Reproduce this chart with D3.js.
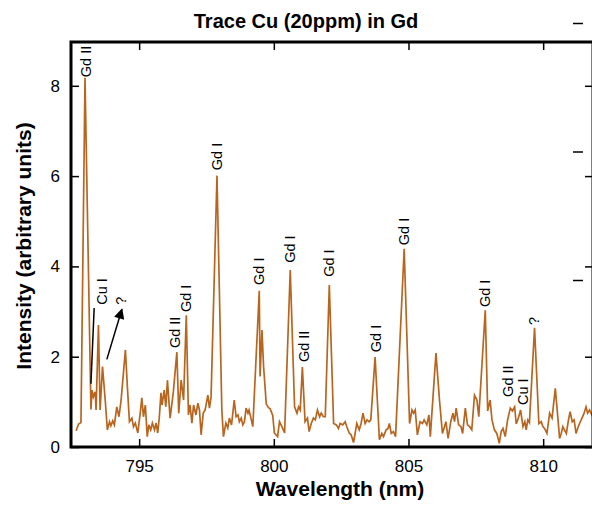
<!DOCTYPE html>
<html>
<head>
<meta charset="utf-8">
<script src="https://cdn.jsdelivr.net/npm/d3@7"></script>
<style>
  body { margin: 0; background: #fff; }
  svg { font-family: "Liberation Sans", Arial, sans-serif; }
</style>
</head>
<body>
<svg></svg>
<script>
// spectrum
const wavelength = [792.66,792.75,792.84,792.99,793.21,793.25,793.30,793.37,793.40,793.49,
  793.55,793.64,793.74,793.82,793.90,793.95,794.02,794.08,794.17,794.25,
  794.33,794.49,794.57,794.64,794.73,794.79,794.86,794.95,795.04,795.10,
  795.16,795.23,795.30,795.36,795.43,795.49,795.57,795.63,795.69,795.75,
  795.81,795.85,795.93,795.99,796.05,796.15,796.27,796.40,796.47,796.56,
  796.65,796.75,796.83,796.89,796.96,797.02,797.11,797.18,797.24,797.30,
  797.38,797.45,797.55,797.61,797.67,797.89,798.07,798.13,798.22,798.29,
  798.35,798.43,798.53,798.60,798.67,798.72,798.79,798.85,798.91,798.97,
  799.04,799.08,799.15,799.22,799.46,799.49,799.56,799.62,799.72,799.80,
  799.86,799.96,800.02,800.14,800.21,800.30,800.40,800.61,800.77,800.86,
  800.92,800.98,801.06,801.16,801.25,801.31,801.39,801.47,801.54,801.62,
  801.70,801.76,801.84,801.91,802.06,802.22,802.32,802.40,802.46,802.56,
  802.65,802.71,802.80,802.87,802.96,803.08,803.17,803.24,803.31,803.39,
  803.46,803.54,803.60,803.76,803.92,804.01,804.07,804.17,804.24,804.29,
  804.36,804.44,804.52,804.84,805.04,805.13,805.19,805.25,805.33,805.43,
  805.52,805.58,805.68,805.76,805.81,806.02,806.15,806.26,806.39,806.47,
  806.57,806.65,806.71,806.77,806.86,806.95,807.01,807.11,807.19,807.27,
  807.35,807.45,807.54,807.61,807.85,807.94,808.03,808.10,808.19,808.28,
  808.37,808.44,808.51,808.59,808.68,808.78,808.86,808.94,809.00,809.08,
  809.16,809.25,809.32,809.37,809.43,809.49,809.68,809.84,809.93,809.99,
  810.05,810.14,810.24,810.33,810.45,810.53,810.61,810.67,810.73,810.79,
  810.86,810.94,811.00,811.08,811.15,811.22,811.28,811.35,811.44,811.52,
  811.59,811.65,811.72,811.81,811.90,812.00];

const intensity = [0.36,0.51,0.54,8.18,0.83,1.26,1.11,1.22,0.82,2.70,
  0.82,1.78,1.04,0.38,0.56,0.47,0.58,0.49,0.89,0.67,
  1.04,2.15,1.26,0.56,0.64,0.45,0.53,0.31,0.75,1.09,
  0.67,0.93,0.23,0.49,0.38,0.53,0.38,0.53,0.31,0.67,
  1.20,0.93,1.26,0.89,1.48,0.64,1.22,2.10,0.75,1.48,
  1.04,2.92,0.71,0.93,0.53,0.93,0.71,0.97,0.82,0.27,
  0.75,0.82,1.15,0.86,1.11,6.01,0.82,0.23,0.53,0.42,
  0.64,0.49,1.04,0.67,0.71,0.56,0.64,0.49,0.56,0.86,
  0.75,0.82,0.64,0.45,3.46,1.56,2.59,1.78,0.95,0.87,
  0.85,0.70,0.31,0.23,0.56,0.45,0.31,3.92,0.89,0.75,
  0.89,0.82,1.77,0.56,0.64,0.34,0.52,0.64,0.60,0.82,
  0.67,0.75,0.67,0.67,3.59,0.52,0.49,0.41,0.52,0.49,
  0.56,0.45,0.31,0.27,0.10,0.52,0.38,0.52,0.75,0.52,
  0.60,0.56,0.60,1.99,0.16,0.30,0.23,0.38,0.41,0.52,
  0.30,0.34,0.23,4.39,0.52,0.82,0.75,0.82,0.27,0.56,
  0.52,0.60,0.49,0.71,0.23,2.08,1.04,0.30,0.56,0.19,
  0.56,0.75,0.56,0.86,0.49,0.45,0.30,0.86,0.49,0.45,
  0.38,1.15,1.04,0.67,3.03,0.80,1.04,0.60,0.38,0.30,
  0.08,0.34,0.41,0.23,0.60,0.86,0.80,0.89,0.51,0.64,
  0.82,0.45,0.56,0.38,0.60,0.54,2.64,0.52,0.56,0.45,
  0.41,0.30,0.75,0.64,1.30,0.75,0.19,0.30,0.45,0.38,
  0.30,0.60,0.78,0.56,0.60,0.30,0.41,0.52,0.64,0.75,
  0.89,0.75,0.82,0.71,0.80,0.70];

// tick values
const xTicks = [795, 800, 805, 810];
const yTicks = [0, 2, 4, 6, 8];

// peak labels: text, wavelength, intensity where the text starts
const labelText = ["Gd II", "Cu I", "?", "Gd II", "Gd I", "Gd I", "Gd I", "Gd I",
  "Gd II", "Gd I", "Gd I", "Gd I", "Gd I", "?", "Gd II", "Cu I"];
const labelWl = [793.03, 793.63, 794.33, 796.34, 796.75, 797.88, 799.46, 800.61,
  801.11, 802.06, 803.80, 804.84, 807.83, 809.67, 808.70, 809.26];
const labelI = [8.19, 3.15, 3.15, 2.19, 2.99, 6.13, 3.59, 4.08,
  1.88, 3.77, 2.10, 4.47, 3.10, 2.70, 1.11, 0.93];

// pointer line for Cu I and arrow for "?"
const cuLine = [[793.21, 1.40], [793.33, 3.08]];
const qArrow = [[793.80, 1.94], [794.36, 3.05]];

const w = 592;
const h = 506;
const margin = { top: 42, left: 71, right: 593, bottom: 447 };

const svg = d3.select("svg").attr("width", w).attr("height", h);

const x = d3.scaleLinear().domain([792.47, 811.85]).range([margin.left, margin.right]);
const y = d3.scaleLinear().domain([0, 8.97]).range([margin.bottom, margin.top]);

svg.append("defs").append("clipPath").attr("id", "clip")
  .append("rect")
  .attr("x", margin.left).attr("y", margin.top)
  .attr("width", margin.right - margin.left).attr("height", margin.bottom - margin.top);

svg.select("defs").append("marker")
  .attr("id", "head")
  .attr("viewBox", "0 0 10 10")
  .attr("refX", 9).attr("refY", 5)
  .attr("markerWidth", 8).attr("markerHeight", 7)
  .attr("markerUnits", "strokeWidth")
  .attr("orient", "auto")
  .append("path").attr("d", "M0,0 L10,5 L0,10 z").attr("fill", "#000");

// spectrum line
const line = d3.line().x(d => x(d[0])).y(d => y(d[1]));
svg.append("path")
  .datum(d3.zip(wavelength, intensity))
  .attr("clip-path", "url(#clip)")
  .attr("fill", "none")
  .attr("stroke", "#b8661f")
  .attr("stroke-width", 1.7)
  .attr("d", line);

// axes, ticks pointing inward
const tickStyle = g => {
  g.select(".domain").remove();
  g.selectAll(".tick line").attr("stroke", "#000").attr("stroke-width", 1.5);
  g.selectAll(".tick text").attr("fill", "#000").attr("font-size", 17);
};

svg.append("g")
  .attr("transform", `translate(0, ${margin.bottom})`)
  .call(d3.axisBottom(x).tickValues(xTicks).tickSize(-8).tickPadding(13).tickFormat(d3.format("d")))
  .call(tickStyle);

svg.append("g")
  .attr("transform", `translate(0, ${margin.top})`)
  .call(d3.axisTop(x).tickValues(xTicks).tickSize(-8).tickFormat(""))
  .call(tickStyle);

svg.append("g")
  .attr("transform", `translate(${margin.left}, 0)`)
  .call(d3.axisLeft(y).tickValues(yTicks).tickSize(-8).tickPadding(11))
  .call(tickStyle);

svg.append("g")
  .attr("transform", `translate(${margin.right}, 0)`)
  .call(d3.axisRight(y).tickValues(yTicks).tickSize(-8).tickFormat(""))
  .call(tickStyle);

// stray ticks near the right edge
const yStray = d3.scaleLinear().domain([0, 3]).range([408.5, 23]);
svg.append("g")
  .attr("transform", "translate(573, 0)")
  .call(d3.axisRight(yStray).tickValues([1, 2, 3]).tickSize(10).tickFormat(""))
  .call(tickStyle);

// frame
svg.append("rect")
  .attr("x", margin.left).attr("y", margin.top)
  .attr("width", margin.right - margin.left).attr("height", margin.bottom - margin.top)
  .attr("fill", "none").attr("stroke", "#000").attr("stroke-width", 3);

// peak labels
svg.append("g").selectAll("text")
  .data(d3.zip(labelText, labelWl, labelI))
  .enter()
  .append("text")
  .attr("transform", d => `translate(${x(d[1])}, ${y(d[2])}) rotate(-90)`)
  .attr("dy", "0.35em")
  .attr("font-size", 14.5)
  .attr("text-anchor", "start")
  .text(d => d[0]);

svg.append("line")
  .attr("x1", x(cuLine[0][0])).attr("y1", y(cuLine[0][1]))
  .attr("x2", x(cuLine[1][0])).attr("y2", y(cuLine[1][1]))
  .attr("stroke", "#000").attr("stroke-width", 1.5);

svg.append("line")
  .attr("x1", x(qArrow[0][0])).attr("y1", y(qArrow[0][1]))
  .attr("x2", x(qArrow[1][0])).attr("y2", y(qArrow[1][1]))
  .attr("stroke", "#000").attr("stroke-width", 1.5)
  .attr("marker-end", "url(#head)");

// titles
svg.append("text")
  .attr("x", 306).attr("y", 28)
  .attr("text-anchor", "middle")
  .attr("font-weight", "bold").attr("font-size", 20)
  .text("Trace Cu (20ppm) in Gd");

svg.append("text")
  .attr("x", 340).attr("y", 496)
  .attr("text-anchor", "middle")
  .attr("font-weight", "bold").attr("font-size", 21)
  .text("Wavelength (nm)");

svg.append("text")
  .attr("transform", "translate(31, 246) rotate(-90)")
  .attr("text-anchor", "middle")
  .attr("font-weight", "bold").attr("font-size", 21)
  .text("Intensity (arbitrary units)");
</script>
</body>
</html>
